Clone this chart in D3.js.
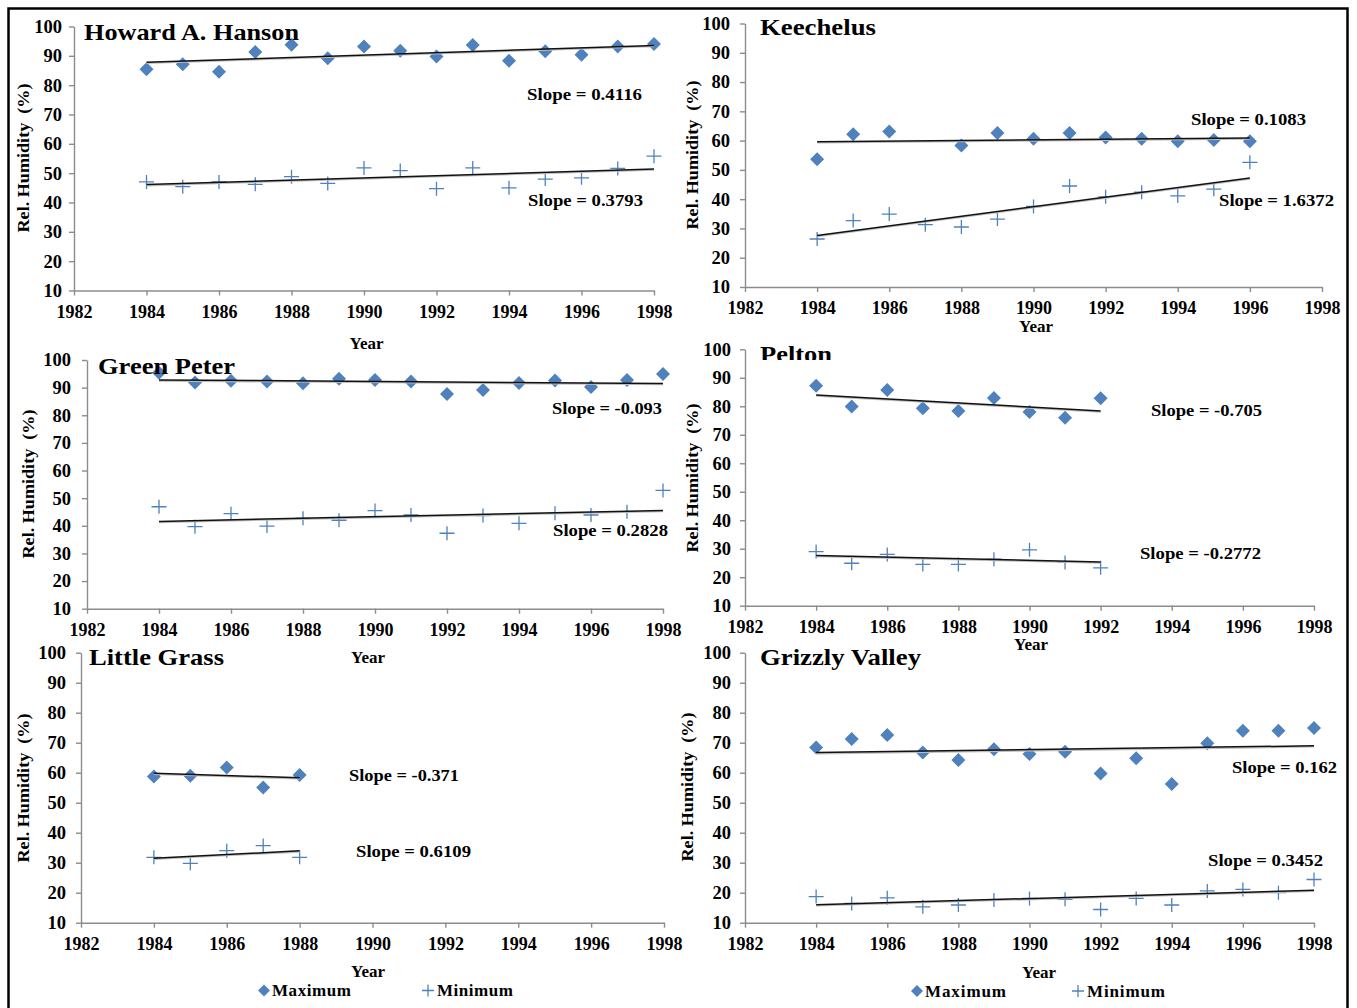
<!DOCTYPE html>
<html><head><meta charset="utf-8">
<script src="https://cdn.jsdelivr.net/npm/d3@7"></script>
<style>
html,body{margin:0;padding:0;background:#fff;}
svg{display:block;}
text{font-family:"Liberation Serif","Times New Roman",serif;font-weight:bold;fill:#000;}
</style></head>
<body>
<svg id="chart" width="1357" height="1008"></svg>
<script>
// ---------- DATA ----------
const stationNames = ["Howard A. Hanson","Keechelus","Green Peter","Pelton","Little Grass","Grizzly Valley"];
const xTicks = [1982,1984,1986,1988,1990,1992,1994,1996,1998];
const yTicks = [10,20,30,40,50,60,70,80,90,100];

const hansonYears = [1984,1985,1986,1987,1988,1989,1990,1991,1992,1993,1994,1995,1996,1997,1998];
const hansonMax = [85.4,87.1,84.6,91.3,93.8,89.2,93.2,91.7,89.8,93.7,88.3,91.6,90.4,93.2,94.0];
const hansonMin = [47.0,45.4,47.0,46.2,48.8,46.5,51.8,50.9,44.7,51.8,45.0,48.0,48.4,51.6,55.8];

const keechelusMaxYears = [1984,1985,1986,1988,1989,1990,1991,1992,1993,1994,1995,1996];
const keechelusMax = [53.6,62.2,63.1,58.3,62.6,60.6,62.6,61.1,60.6,59.8,60.2,59.8];
const keechelusMinYears = [1984,1985,1986,1987,1988,1989,1990,1991,1992,1993,1994,1995,1996];
const keechelusMin = [26.4,32.7,34.9,31.3,30.5,33.2,37.5,44.5,40.8,42.4,41.1,43.4,52.6];

const greenPeterYears = [1984,1985,1986,1987,1988,1989,1990,1991,1992,1993,1994,1995,1996,1997,1998];
const greenPeterMax = [95.4,91.9,92.5,92.2,91.6,93.2,92.8,92.2,87.7,89.1,91.7,92.6,90.2,92.8,94.9];
const greenPeterMin = [46.9,39.7,44.4,39.9,42.7,42.0,45.5,43.9,37.3,43.7,40.9,44.5,43.9,45.1,52.8];

const peltonYears = [1984,1985,1986,1987,1988,1989,1990,1991,1992];
const peltonMax = [87.2,79.9,85.7,79.3,78.3,82.9,78.0,76.0,82.8];
const peltonMin = [29.0,24.9,28.0,24.5,24.5,26.3,29.6,25.2,23.3];

const littleGrassYears = [1984,1985,1986,1987,1988];
const littleGrassMax = [58.7,59.0,61.7,55.1,59.2];
const littleGrassMin = [31.8,29.8,34.0,35.7,31.8];

const grizzlyYears = [1984,1985,1986,1987,1988,1989,1990,1991,1992,1993,1994,1995,1996,1997,1998];
const grizzlyMax = [68.4,71.2,72.6,66.7,64.2,67.8,66.2,67.0,59.7,64.8,56.2,69.8,74.0,74.0,74.9];
const grizzlyMin = [18.7,16.4,18.3,15.3,15.9,17.6,18.1,17.8,14.4,18.1,15.9,20.6,21.1,20.0,24.4];

// trend lines: slope (from labels) and fitted value at first year
const maxSlopes = [0.4116,0.1083,-0.093,-0.705,-0.371,0.162];
const minSlopes = [0.3793,1.6372,0.2828,-0.2772,0.6109,0.3452];
const maxTrendStart = [87.8,59.6,92.8,84.0,59.8,66.7];
const minTrendStart = [46.1,27.6,41.6,27.6,31.5,16.0];
const maxSlopeLabels = ["Slope = 0.4116","Slope = 0.1083","Slope = -0.093","Slope = -0.705","Slope = -0.371","Slope = 0.162"];
const minSlopeLabels = ["Slope = 0.3793","Slope = 1.6372","Slope = 0.2828","Slope = -0.2772","Slope = 0.6109","Slope = 0.3452"];

const legendLabels = ["Maximum","Minimum"];
const yTitle = "Rel. Humidity\u00A0\u00A0(%)";
const xTitle = "Year";

// ---------- LAYOUT ----------
const panels = [
  {maxX:hansonYears, maxY:hansonMax, minX:hansonYears, minY:hansonMin,
   x0:74,x1:654,yTop:26.5,yBot:290.5, lblPad:8,
   title:[84,39.5,215], yT:[23,158], xT:[366.5,343],
   sMax:[527,94,115], sMin:[528,200,115]},
  {maxX:keechelusMaxYears, maxY:keechelusMax, minX:keechelusMinYears, minY:keechelusMin,
   x0:745,x1:1322,yTop:23.5,yBot:287, lblPad:11,
   title:[760,35,116], yT:[692,155], xT:[1036,326],
   sMax:[1191,119,115], sMin:[1219,200,115]},
  {maxX:greenPeterYears, maxY:greenPeterMax, minX:greenPeterYears, minY:greenPeterMin,
   x0:87,x1:663,yTop:360,yBot:608.7, lblPad:12,
   title:[98,374,137], yT:[28,484], xT:[368,657],
   sMax:[552,408,110], sMin:[553,530,115]},
  {maxX:peltonYears, maxY:peltonMax, minX:peltonYears, minY:peltonMin,
   x0:745,x1:1314,yTop:349.3,yBot:605.7, lblPad:10,
   title:[760,362,72], yT:[692,478], xT:[1031,644], clipTitle:360,
   sMax:[1151,410,111], sMin:[1140,553,121]},
  {maxX:littleGrassYears, maxY:littleGrassMax, minX:littleGrassYears, minY:littleGrassMin,
   x0:81,x1:664,yTop:652.7,yBot:922.7, lblPad:11,
   title:[89,665,135], yT:[23,788], xT:[368,971],
   sMax:[349,775,110], sMin:[356,851,115],
   legend:[264,990.5,272,80,428,437,77]},
  {maxX:grizzlyYears, maxY:grizzlyMax, minX:grizzlyYears, minY:grizzlyMin,
   x0:745,x1:1314,yTop:652.7,yBot:922.7, lblPad:10,
   title:[760,665,161], yT:[687,787], xT:[1039,972],
   sMax:[1232,767,105], sMin:[1208,860,115],
   legend:[917,991,925,82,1078,1087,79]}
];

const BLUE = "#4F81BD";
const AXIS = "#8c8c8c";
const svg = d3.select("#chart");

// outer border
svg.append("rect").attr("x",8.5).attr("y",8.5).attr("width",1339).attr("height",1010)
  .attr("fill","none").attr("stroke","#000").attr("stroke-width",2.5);

const diamond = "M0,-7L7,0L0,7L-7,0Z";
const plus = "M-7.5,0H7.5M0,-7V7";

panels.forEach((p,i)=>{
  const x = d3.scaleLinear().domain([1982,1998]).range([p.x0,p.x1]);
  const y = d3.scaleLinear().domain([10,100]).range([p.yBot,p.yTop]);
  const g = svg.append("g");

  // axes
  const xa = g.append("g").attr("transform",`translate(0,${p.yBot})`)
    .call(d3.axisBottom(x).tickValues(xTicks).tickFormat(d3.format("d")).tickSize(5).tickSizeOuter(0).tickPadding(9.5));
  const ya = g.append("g").attr("transform",`translate(${p.x0},0)`)
    .call(d3.axisLeft(y).tickValues(yTicks).tickSize(5).tickSizeOuter(0).tickPadding(p.lblPad - 1));
  [xa,ya].forEach(a=>{
    a.select(".domain").attr("stroke",AXIS).attr("stroke-width",1.4);
    a.selectAll(".tick line").attr("stroke",AXIS).attr("stroke-width",1.4);
    a.selectAll("text").attr("font-family",null).attr("font-size",null)
      .style("font-family",'"Liberation Serif","Times New Roman",serif').style("font-weight","bold")
      .style("font-size","18.5px").attr("fill","#000");
  });
  xa.selectAll("text").style("font-size","18px");

  // axis titles
  g.append("text").attr("transform",`translate(${p.yT[0]},${p.yT[1]}) rotate(-90)`)
    .attr("text-anchor","middle").attr("dy","0.35em").style("font-size","17.5px")
    .attr("textLength",149).attr("lengthAdjust","spacingAndGlyphs").text(yTitle);
  g.append("text").attr("x",p.xT[0]).attr("y",p.xT[1]).attr("text-anchor","middle").attr("dy","0.35em")
    .style("font-size","17px").text(xTitle);

  // trend lines
  const trend = (xs,start,slope)=>{
    const a = xs[0], b = xs[xs.length-1];
    g.append("line").attr("x1",x(a)).attr("y1",y(start)+1).attr("x2",x(b)).attr("y2",y(start+slope*(b-a))+1)
      .attr("stroke","#bdbdbd").attr("stroke-width",1.6);
    g.append("line").attr("x1",x(a)).attr("y1",y(start)).attr("x2",x(b)).attr("y2",y(start+slope*(b-a)))
      .attr("stroke","#111").attr("stroke-width",1.5);
  };

  // points
  g.selectAll(".mx").data(p.maxX.map((d,k)=>[d,p.maxY[k]])).join("path")
    .attr("d",diamond).attr("fill",BLUE).attr("transform",d=>`translate(${x(d[0])},${y(d[1])})`);
  g.selectAll(".mn").data(p.minX.map((d,k)=>[d,p.minY[k]])).join("path")
    .attr("d",plus).attr("fill","none").attr("stroke",BLUE).attr("stroke-width",1.3)
    .attr("transform",d=>`translate(${x(d[0])},${y(d[1])})`);

  trend(p.maxX,maxTrendStart[i],maxSlopes[i]);
  trend(p.minX,minTrendStart[i],minSlopes[i]);

  // slope labels
  g.append("text").attr("x",p.sMax[0]).attr("y",p.sMax[1]).attr("dy","0.35em").style("font-size","17.5px")
    .attr("textLength",p.sMax[2]).attr("lengthAdjust","spacingAndGlyphs").text(maxSlopeLabels[i]);
  g.append("text").attr("x",p.sMin[0]).attr("y",p.sMin[1]).attr("dy","0.35em").style("font-size","17.5px")
    .attr("textLength",p.sMin[2]).attr("lengthAdjust","spacingAndGlyphs").text(minSlopeLabels[i]);

  // title
  let tg = g;
  if (p.clipTitle){
    const id = "clip"+i;
    svg.append("clipPath").attr("id",id).append("rect").attr("x",p.title[0]-5).attr("y",p.title[1]-40)
      .attr("width",p.title[2]+20).attr("height",p.clipTitle-(p.title[1]-40));
    tg = g.append("g").attr("clip-path",`url(#${id})`);
  }
  tg.append("text").attr("x",p.title[0]).attr("y",p.title[1]).style("font-size","24px")
    .attr("textLength",p.title[2]).attr("lengthAdjust","spacingAndGlyphs").text(stationNames[i]);

  // legend
  if (p.legend){
    const L = p.legend;
    g.append("path").attr("d","M0,-6L6,0L0,6L-6,0Z").attr("fill",BLUE).attr("transform",`translate(${L[0]},${L[1]})`);
    g.append("text").attr("x",L[2]).attr("y",L[1]).attr("dy","0.35em").style("font-size","17px")
      .attr("textLength",L[3]).attr("lengthAdjust","spacing").style("letter-spacing","1px").text(legendLabels[0]);
    g.append("path").attr("d","M-6,0H6M0,-6V6").attr("stroke",BLUE).attr("stroke-width",1.3).attr("fill","none")
      .attr("transform",`translate(${L[4]},${L[1]})`);
    g.append("text").attr("x",L[5]).attr("y",L[1]).attr("dy","0.35em").style("font-size","17px")
      .attr("textLength",L[6]).attr("lengthAdjust","spacing").style("letter-spacing","1px").text(legendLabels[1]);
  }
});
</script>
</body></html>
